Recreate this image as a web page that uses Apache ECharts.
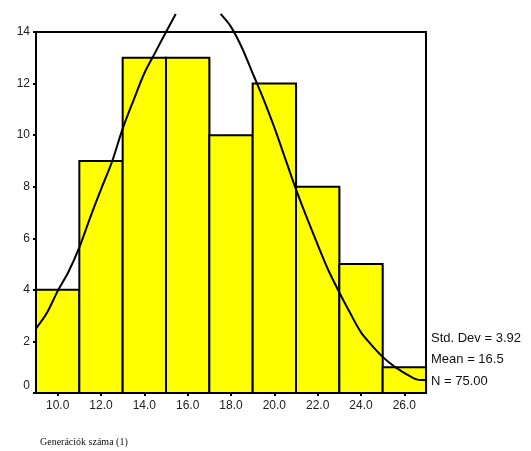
<!DOCTYPE html>
<html>
<head>
<meta charset="utf-8">
<script src="https://cdn.jsdelivr.net/npm/echarts@6/dist/echarts.min.js"></script>
<style>
  html, body { margin: 0; padding: 0; background: #fff; }
  #chart { width: 531px; height: 451px; }
</style>
</head>
<body>
<div id="chart"></div>
<script>
// Histogram bins (centre of each 2-unit bin) and their frequencies
const binCenters = [10, 12, 14, 16, 18, 20, 22, 24, 26];
const counts = [4, 9, 13, 13, 10, 12, 8, 5, 1];

// Fitted normal curve, sampled along the x range (null = off the top)
const curveX = [9.0, 9.5, 10.0, 10.5, 11.0, 11.5, 12.0, 12.5, 13.0, 13.5, 14.0, 14.5, 15.0, 15.45,
                16.5,
                17.52, 18.0, 18.5, 19.0, 19.5, 20.0, 20.5, 21.0, 21.5, 22.0, 22.5, 23.0, 23.5,
                24.0, 24.5, 25.0, 25.5, 26.0, 26.5, 26.8, 27.0];
const curveY = [2.5, 3.1, 3.95, 4.7, 5.65, 6.8, 7.9, 8.95, 10.25, 11.35, 12.4, 13.2, 14.0, 14.7,
                null,
                14.7, 14.2, 13.4, 12.4, 11.4, 10.3, 9.1, 7.9, 6.8, 5.75, 4.75, 3.9, 3.1,
                2.35, 1.85, 1.4, 1.05, 0.78, 0.55, 0.5, 0.5];

// Tick labels and summary statistics
const xTickValues = [10, 12, 14, 16, 18, 20, 22, 24, 26];
const statLines = ['Std. Dev = 3.92', 'Mean = 16.5', 'N = 75.00'];
const axisTitle = 'Generációk száma (1)';

const binWidth = 2;

const chart = echarts.init(document.getElementById('chart'), null, { renderer: 'canvas' });

const sansFont = '"Liberation Sans", Arial, sans-serif';

chart.setOption({
  animation: false,
  backgroundColor: '#ffffff',
  grid: {
    left: 36, right: 105, top: 32, bottom: 58,
    show: true, borderColor: '#000', borderWidth: 2, backgroundColor: 'transparent'
  },
  xAxis: {
    type: 'value',
    min: 9, max: 27,
    splitLine: { show: false },
    axisLine: { lineStyle: { color: '#000', width: 2 } },
    axisTick: { customValues: xTickValues, length: 3, lineStyle: { color: '#000', width: 2 } },
    axisLabel: {
      customValues: xTickValues,
      margin: 7,
      color: '#222',
      fontFamily: sansFont,
      fontSize: 12,
      formatter: v => Number(v).toFixed(1)
    }
  },
  yAxis: {
    type: 'value',
    min: 0, max: 14, interval: 2,
    splitLine: { show: false },
    axisLine: { show: true, lineStyle: { color: '#000', width: 2 } },
    axisTick: { show: true, length: 3, lineStyle: { color: '#000', width: 2 } },
    axisLabel: {
      margin: 6,
      color: '#222',
      fontFamily: sansFont,
      fontSize: 12,
      formatter: v => (v === 0 ? '{z|0}' : String(v)),
      rich: { z: { fontFamily: sansFont, fontSize: 12, color: '#222', padding: [0, 0, 14, 0] } }
    }
  },
  series: [
    {
      type: 'custom',
      z: 2,
      data: binCenters.map((c, i) => [c, counts[i]]),
      renderItem: function (params, api) {
        const c = api.value(0);
        const v = api.value(1);
        const topLeft = api.coord([c - binWidth / 2, v]);
        const botRight = api.coord([c + binWidth / 2, 0]);
        return {
          type: 'group',
          children: [
            {
              type: 'rect',
              shape: { x: topLeft[0] + 1.5, y: topLeft[1] + 1.5, width: botRight[0] - topLeft[0], height: botRight[1] - topLeft[1] - 1.5 },
              style: { fill: 'rgba(0,0,0,0.18)' }
            },
            {
              type: 'rect',
              shape: { x: topLeft[0], y: topLeft[1], width: botRight[0] - topLeft[0], height: botRight[1] - topLeft[1] },
              style: { fill: '#FFFF00', stroke: '#000', lineWidth: 2 }
            }
          ]
        };
      }
    },
    {
      type: 'line',
      z: 5,
      clip: false,
      showSymbol: false,
      connectNulls: false,
      smooth: 0.3,
      data: curveX.map((x, i) => [x, curveY[i]]),
      lineStyle: { color: '#000', width: 2 }
    }
  ],
  graphic: [
    ...statLines.map((t, i) => ({
      type: 'text',
      x: 431,
      y: 338 + i * 21.5,
      style: {
        text: t,
        font: '13px ' + sansFont,
        fill: '#111',
        verticalAlign: 'middle'
      }
    })),
    {
      type: 'text',
      x: 40,
      y: 442,
      style: {
        text: axisTitle,
        font: '10px "Liberation Serif", "Times New Roman", serif',
        fill: '#111',
        verticalAlign: 'middle'
      }
    }
  ]
});
</script>
</body>
</html>
